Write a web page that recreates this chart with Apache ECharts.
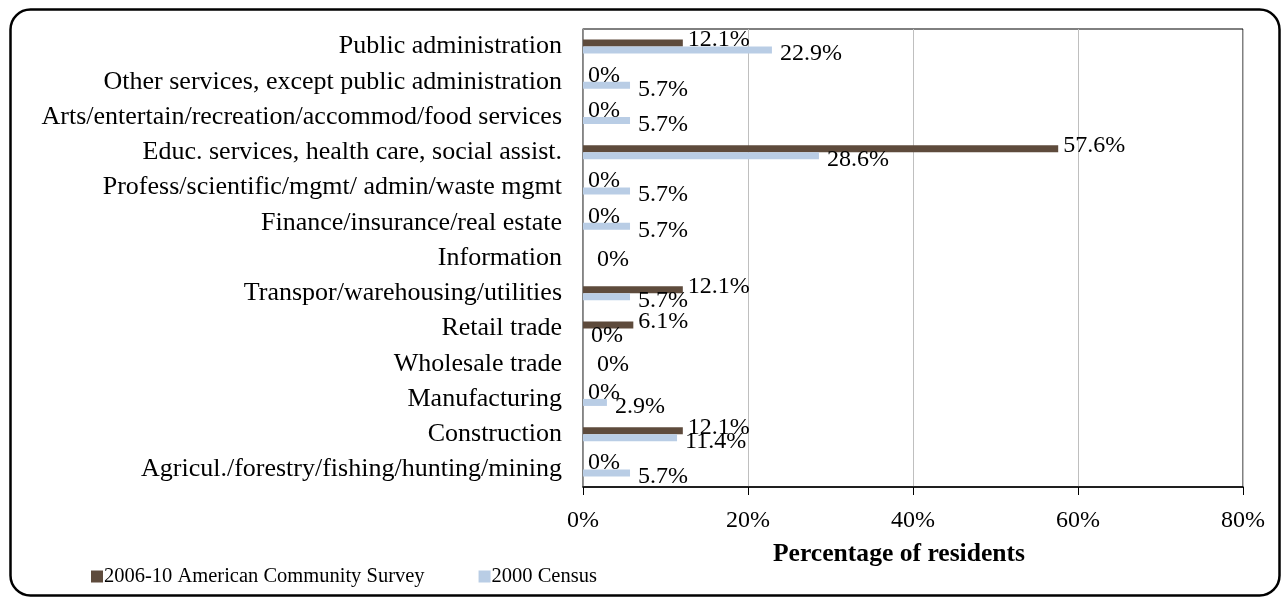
<!DOCTYPE html>
<html>
<head>
<meta charset="utf-8">
<title>Industry of residents</title>
<script src="https://cdn.jsdelivr.net/npm/echarts@6/dist/echarts.min.js"></script>
<style>
  html, body { margin: 0; padding: 0; background: #fff; }
  #chart { width: 1281px; height: 598px; }
</style>
</head>
<body>
<div id="chart"></div>
<script>
// categories, top to bottom as in the figure
const categories = [
  "Public administration",
  "Other services, except public administration",
  "Arts/entertain/recreation/accommod/food services",
  "Educ. services, health care, social assist.",
  "Profess/scientific/mgmt/ admin/waste mgmt",
  "Finance/insurance/real estate",
  "Information",
  "Transpor/warehousing/utilities",
  "Retail trade",
  "Wholesale trade",
  "Manufacturing",
  "Construction",
  "Agricul./forestry/fishing/hunting/mining"
];
const acs2006 = [12.1, 0, 0, 57.6, 0, 0, 0, 12.1, 6.1, 0, 0, 12.1, 0];
const census2000 = [22.9, 5.7, 5.7, 28.6, 5.7, 5.7, 0, 5.7, 0, 0, 2.9, 11.4, 5.7];
const xTicks = [0, 20, 40, 60, 80];

const FONT = "Liberation Serif";
const BROWN = "#5E4B3C";
const BLUE = "#B9CDE5";

var myChart = echarts.init(document.getElementById("chart"));

// rows where both values are 0 only get one label, centred on the row
let acsData = acs2006.map(function (v, i) {
  if (v === 0 && census2000[i] === 0) {
    return { value: v, label: { show: false } };
  }
  return v;
});
let censusData = census2000.map(function (v, i) {
  if (v === 0 && acs2006[i] === 0) {
    return { value: v, label: { offset: [6, -2] } };
  }
  return v;
});

let option = {
  animation: false,
  textStyle: { fontFamily: FONT },
  grid: {
    left: 583,
    right: 38,
    top: 29,
    bottom: 111,
    show: true,
    borderColor: "#000",
    borderWidth: 1
  },
  legend: {
    left: 86,
    top: 561,
    itemWidth: 12,
    itemHeight: 12,
    itemGap: 54,
    icon: "rect",
    textStyle: { fontFamily: FONT, fontSize: 20.5, color: "#000", padding: [0, 0, 0, -4] },
    data: ["2006-10 American Community Survey", "2000 Census"]
  },
  xAxis: {
    type: "value",
    min: xTicks[0],
    max: xTicks[xTicks.length - 1],
    interval: xTicks[1] - xTicks[0],
    name: "Percentage of residents",
    nameLocation: "middle",
    nameGap: 54,
    nameTextStyle: {
      fontFamily: FONT,
      fontSize: 25.6,
      fontWeight: "bold",
      color: "#000",
      padding: [0, 28, 0, 0]
    },
    axisLine: { show: true, lineStyle: { color: "#000", width: 1.5 } },
    axisTick: { show: true, length: 8, lineStyle: { color: "#000" } },
    axisLabel: {
      formatter: "{value}%",
      fontFamily: FONT,
      fontSize: 24,
      color: "#000",
      margin: 22
    },
    splitLine: { show: true, lineStyle: { color: "#BFBFBF", width: 1 } }
  },
  yAxis: {
    type: "category",
    inverse: true,
    data: categories,
    axisLine: { show: true, lineStyle: { color: "#868686", width: 1.5 } },
    axisTick: { show: false },
    axisLabel: {
      fontFamily: FONT,
      fontSize: 26,
      color: "#000",
      margin: 21
    },
    splitLine: { show: false }
  },
  series: [
    {
      name: "2006-10 American Community Survey",
      type: "bar",
      data: acsData,
      barWidth: 7,
      barGap: "0%",
      itemStyle: { color: BROWN },
      label: {
        show: true,
        position: "right",
        distance: 5,
        offset: [0, -3],
        formatter: function (p) { return p.value + "%"; },
        fontFamily: FONT,
        fontSize: 24,
        color: "#000"
      }
    },
    {
      name: "2000 Census",
      type: "bar",
      data: censusData,
      barWidth: 7,
      barGap: "0%",
      itemStyle: { color: BLUE },
      label: {
        show: true,
        position: "right",
        distance: 8,
        offset: [0, 4],
        formatter: function (p) { return p.value + "%"; },
        fontFamily: FONT,
        fontSize: 24,
        color: "#000"
      }
    }
  ],
  graphic: [
    {
      type: "rect",
      left: 8,
      top: 7,
      shape: { width: 1269, height: 586, r: 20 },
      style: { fill: "none", stroke: "#000", lineWidth: 2.5 },
      silent: true
    }
  ]
};

myChart.setOption(option);
</script>
</body>
</html>
